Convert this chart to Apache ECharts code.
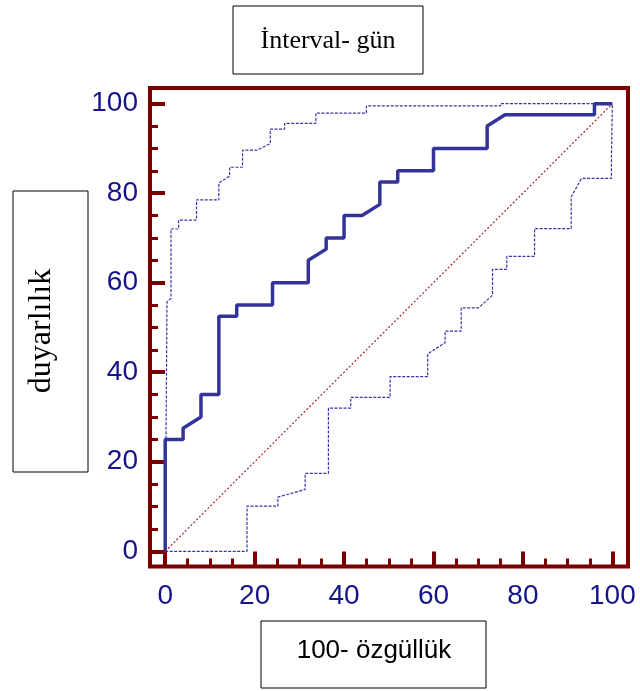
<!DOCTYPE html>
<html>
<head>
    <meta charset="utf-8">
    <title>ROC - İnterval gün</title>
    <script src="https://cdn.jsdelivr.net/npm/echarts@6/dist/echarts.min.js"></script>
    <style>html, body { margin: 0; padding: 0; background: #fff; }</style>
</head>
<body>
    <div id="chart" style="width:640px; height:691px"></div>

    <script>
        // ROC egrisi (kalin cizgi)
        const rocX = [0, 0, 4, 4, 8, 8, 12, 12, 16, 16, 24, 24, 32, 32, 36, 36, 40, 40, 44, 48, 48, 52, 52, 60, 60, 72, 72, 76, 96, 96, 100];
        const rocY = [0, 25, 25, 27.5, 30, 35, 35, 52.5, 52.5, 55, 55, 60, 60, 65, 67.5, 70, 70, 75, 75, 77.5, 82.5, 82.5, 85, 85, 90, 90, 95, 97.5, 97.5, 100, 100];

        // %95 guven araligi - ust sinir
        const upperX = [0, 0.4, 0.4, 1.3, 1.3, 3, 3, 7, 7, 12, 12, 14.4, 14.4, 17.3, 17.3, 20.5, 23.5, 23.5, 26.7, 26.7, 33.7, 33.7, 45, 45, 75, 75, 100];
        const upperY = [0, 0, 55.7, 56.5, 72, 72, 74, 74, 78.5, 78.5, 82.3, 83.8, 85.8, 85.8, 89.6, 89.6, 91.1, 94.3, 94.3, 95.6, 95.6, 97.9, 97.9, 99.5, 99.5, 100, 100];

        // %95 guven araligi - alt sinir
        const lowerX = [0, 18.3, 18.3, 25.2, 25.2, 31.3, 31.3, 36.5, 36.5, 41.5, 41.5, 50.3, 50.3, 58.7, 58.7, 62.6, 62.6, 66.2, 66.2, 70.1, 73.2, 73.2, 76.4, 76.4, 82.6, 82.6, 90.8, 90.8, 93.1, 99.8, 99.8, 100];
        const lowerY = [0, 0, 10.1, 10.1, 12.1, 13.8, 17.4, 17.4, 32, 32, 34.4, 34.4, 39, 39, 44.1, 46.6, 49.2, 49.2, 54.4, 54.4, 57.2, 63, 63, 65.9, 65.9, 72.1, 72.1, 79.2, 83.3, 83.3, 88, 100];

        // kosegen referans cizgisi
        const diagX = [0, 100];
        const diagY = [0, 100];

        const majorTicks = [0, 20, 40, 60, 80, 100];
        const minorTicks = [5, 10, 15, 25, 30, 35, 45, 50, 55, 65, 70, 75, 85, 90, 95];

        const MAROON = '#7a0000';
        const NAVY = '#14148a';
        const BLUE = '#333399';

        function zip(xs, ys) {
            return xs.map((x, i) => [x, ys[i]]);
        }

        function makeAxes(dim) {
            const pos = dim === 'x' ? 'bottom' : 'left';
            const base = {
                type: 'value', min: -3.4, max: 103.5, position: pos,
                splitLine: { show: false },
                axisLine: { show: false, onZero: false }
            };
            return [
                Object.assign({}, base, {
                    axisTick: { inside: true, length: 15, customValues: majorTicks, lineStyle: { color: MAROON, width: 4 } },
                    axisLabel: {
                        customValues: majorTicks, margin: dim === 'x' ? 16 : 12,
                        fontSize: 28, color: NAVY, fontFamily: 'Liberation Sans'
                    }
                }),
                Object.assign({}, base, {
                    axisTick: { inside: true, length: 8, customValues: minorTicks, lineStyle: { color: MAROON, width: 3 } },
                    axisLabel: { show: false }
                })
            ];
        }

        let chart = echarts.init(document.getElementById('chart'));

        let option = {
            animation: false,
            grid: {
                left: 150, right: 12, top: 88, bottom: 124.5,
                show: true, borderColor: MAROON, borderWidth: 4
            },
            xAxis: makeAxes('x'),
            yAxis: makeAxes('y'),
            series: [
                {
                    type: 'line', data: zip(diagX, diagY), showSymbol: false,
                    lineStyle: { color: '#a02828', width: 1.2, type: [2, 2] }
                },
                {
                    type: 'line', data: zip(upperX, upperY), showSymbol: false,
                    lineStyle: { color: '#3434a8', width: 1.2, type: [3, 1.5] }
                },
                {
                    type: 'line', data: zip(lowerX, lowerY), showSymbol: false,
                    lineStyle: { color: '#3434a8', width: 1.2, type: [3, 1.5] }
                },
                {
                    type: 'line', data: zip(rocX, rocY), showSymbol: false,
                    lineStyle: { color: BLUE, width: 3.5 }
                }
            ],
            graphic: [
                {
                    type: 'rect', shape: { x: 233, y: 6, width: 190, height: 68 },
                    style: { fill: '#fff', stroke: '#000', lineWidth: 1 }
                },
                {
                    type: 'text', x: 328, y: 41,
                    style: {
                        text: 'İnterval- gün', font: '26px "Liberation Serif"',
                        fill: '#000', align: 'center', verticalAlign: 'middle'
                    }
                },
                {
                    type: 'rect', shape: { x: 13, y: 191, width: 75, height: 281 },
                    style: { fill: '#fff', stroke: '#000', lineWidth: 1 }
                },
                {
                    type: 'text', x: 42, y: 331, rotation: Math.PI / 2,
                    style: {
                        text: 'duyarlılık', font: '32px "Liberation Serif"',
                        fill: '#000', align: 'center', verticalAlign: 'middle'
                    }
                },
                {
                    type: 'rect', shape: { x: 261, y: 621, width: 225, height: 67 },
                    style: { fill: '#fff', stroke: '#000', lineWidth: 1 }
                },
                {
                    type: 'text', x: 374, y: 651,
                    style: {
                        text: '100- özgüllük', font: '26px "Liberation Sans"',
                        fill: '#000', align: 'center', verticalAlign: 'middle'
                    }
                }
            ]
        };

        chart.setOption(option);
    </script>
</body>
</html>
